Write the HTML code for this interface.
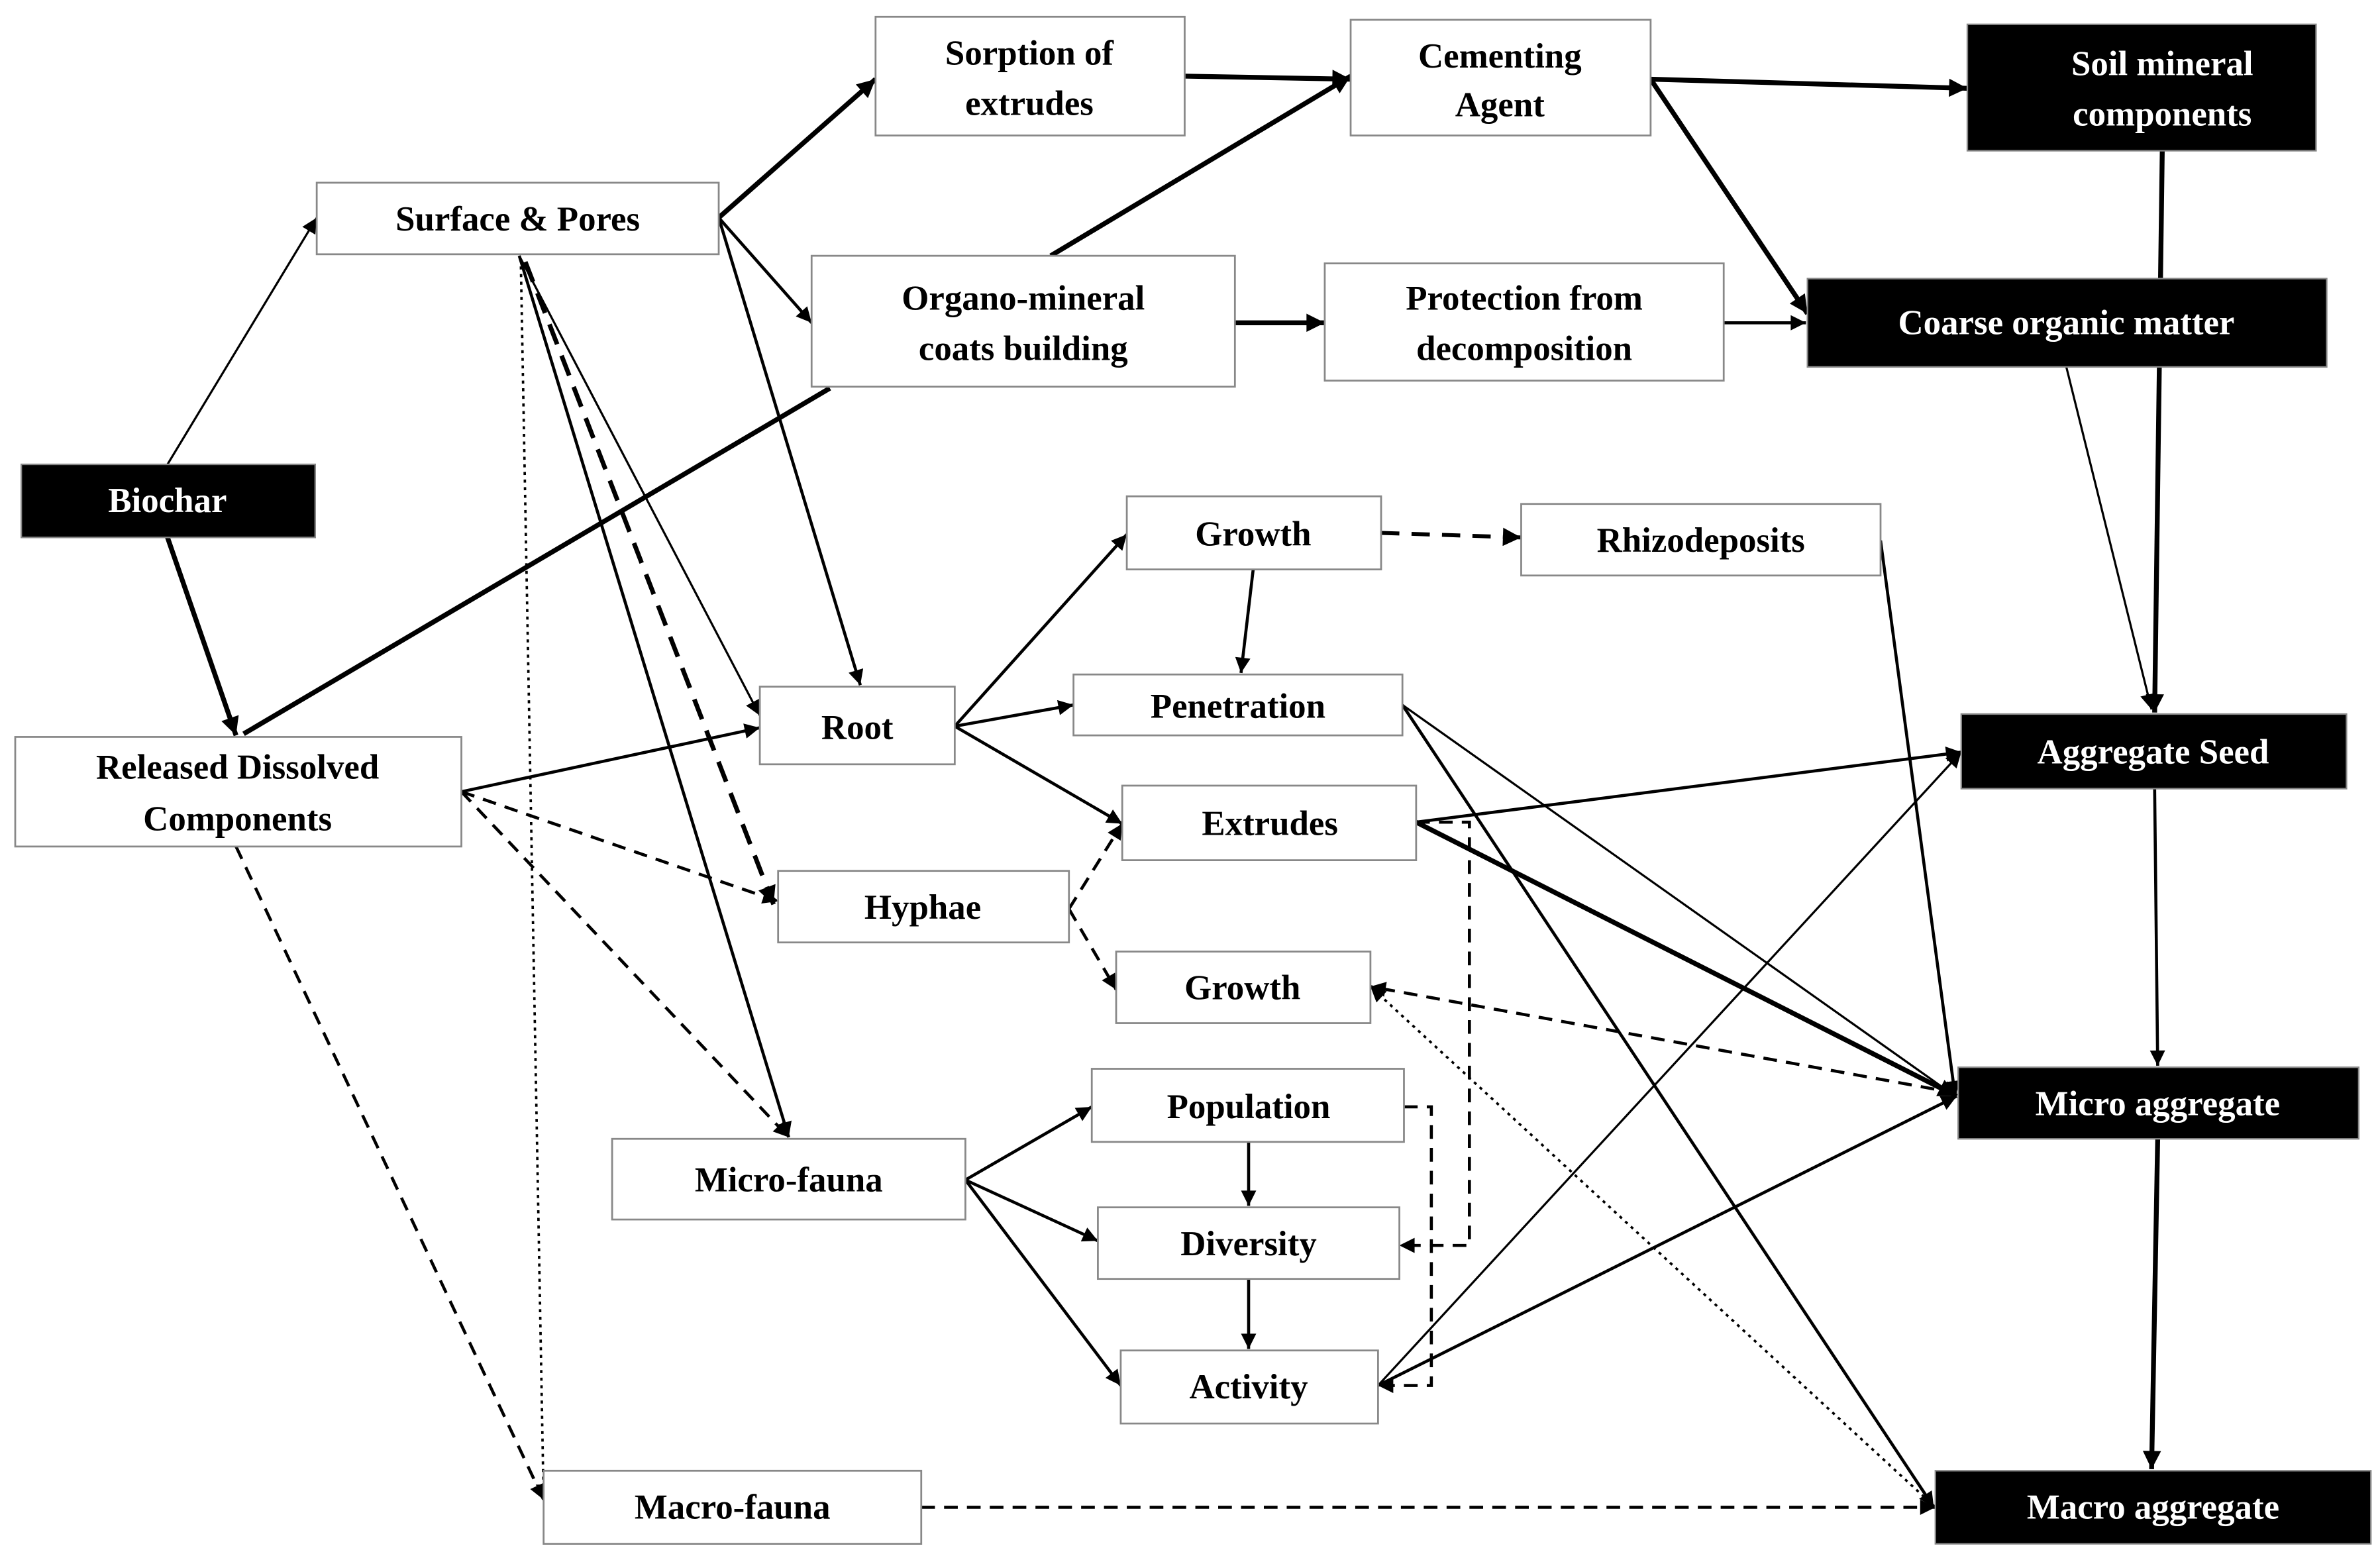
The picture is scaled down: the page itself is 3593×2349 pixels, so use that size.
<!DOCTYPE html>
<html><head><meta charset="utf-8"><style>
html,body{margin:0;padding:0;background:#fff}
svg{display:block}
text{font-family:"Liberation Serif",serif;font-weight:bold;font-size:23px;text-anchor:middle;dominant-baseline:central}
</style></head><body>
<svg width="3593" height="2349" viewBox="0 0 1563 1022" preserveAspectRatio="none" xmlns="http://www.w3.org/2000/svg">
<defs>
<marker id="a" viewBox="0 0 10 10" refX="10" refY="5" markerWidth="11" markerHeight="10" markerUnits="userSpaceOnUse" orient="auto"><path d="M0,0L10,5L0,10z" fill="#000"/></marker>
<marker id="b" viewBox="0 0 10 10" refX="10" refY="5" markerWidth="14" markerHeight="12" markerUnits="userSpaceOnUse" orient="auto"><path d="M0,0L10,5L0,10z" fill="#000"/></marker>
</defs>
<g stroke="#000" fill="none">
<!-- thin -->
<g stroke-width="1.4" marker-end="url(#a)">
<line x1="110" y1="305" x2="208" y2="143"/>
<line x1="341" y1="168" x2="499" y2="470"/>
<line x1="1357" y1="241" x2="1413" y2="466"/>
<line x1="921" y1="463" x2="1284" y2="720"/>
<line x1="905" y1="910" x2="1288" y2="494"/>
</g>
<!-- medium -->
<g stroke-width="2" marker-end="url(#a)">
<line x1="472" y1="143" x2="533" y2="212"/>
<line x1="472" y1="143" x2="565" y2="450"/>
<line x1="341" y1="168" x2="518" y2="747"/>
<line x1="1132" y1="212" x2="1186" y2="212"/>
<line x1="1415" y1="518" x2="1417" y2="700"/>
<line x1="303" y1="520" x2="499" y2="478"/>
<line x1="627" y1="477" x2="740" y2="351"/>
<line x1="627" y1="477" x2="705" y2="463"/>
<line x1="627" y1="477" x2="737" y2="541"/>
<line x1="823" y1="374" x2="815" y2="442"/>
<line x1="1235" y1="355" x2="1284" y2="720"/>
<line x1="921" y1="463" x2="1270" y2="990"/>
<line x1="930" y1="540" x2="1288" y2="494"/>
<line x1="634" y1="775" x2="717" y2="727"/>
<line x1="634" y1="775" x2="721" y2="815"/>
<line x1="634" y1="775" x2="736" y2="910"/>
<line x1="820" y1="750" x2="820" y2="792"/>
<line x1="820" y1="840" x2="820" y2="886"/>
<line x1="905" y1="910" x2="1285" y2="720"/>
</g>
<!-- thick -->
<g stroke-width="3.2" marker-end="url(#b)">
<line x1="110" y1="353" x2="155" y2="483"/>
<line x1="472" y1="143" x2="575" y2="52"/>
<line x1="690" y1="168" x2="887" y2="50"/>
<line x1="778" y1="50" x2="887" y2="52"/>
<line x1="1084" y1="52" x2="1292" y2="58"/>
<line x1="1084" y1="52" x2="1187" y2="206"/>
<line x1="811" y1="212" x2="870" y2="212"/>
<line x1="1420" y1="99" x2="1415" y2="468"/>
<line x1="1417" y1="748" x2="1413" y2="965"/>
<line x1="930" y1="540" x2="1285" y2="720"/>
</g>
<line x1="160" y1="482" x2="545" y2="255" stroke-width="3.2"/>
<!-- dashed -->
<g stroke-width="2" stroke-dasharray="9,6" marker-end="url(#a)">
<line x1="303" y1="520" x2="511" y2="592"/>
<line x1="303" y1="520" x2="518" y2="747"/>
<line x1="155" y1="556" x2="357" y2="985"/>
<line x1="702" y1="597" x2="737" y2="541"/>
<line x1="702" y1="597" x2="733" y2="650"/>
<line x1="1285" y1="718" x2="900" y2="648"/>
<line x1="605" y1="990" x2="1271" y2="990"/>
<polyline points="930,540 965,540 965,818 919,818"/>
<polyline points="922,727 940,727 940,910 905,910"/>
</g>
<line x1="907" y1="350" x2="999" y2="353" stroke-width="2.6" stroke-dasharray="12,8" marker-end="url(#b)"/>
<line x1="345" y1="172" x2="508" y2="594" stroke-width="3" stroke-dasharray="14,8" marker-end="url(#b)"/>
<!-- dotted -->
<line x1="342" y1="170" x2="357" y2="985" stroke-width="1.6" stroke-dasharray="2,3" marker-end="url(#a)"/>
<line x1="1271" y1="990" x2="900" y2="648" stroke-width="1.6" stroke-dasharray="2,3" marker-end="url(#a)"/>
</g>
<!-- boxes -->
<g stroke="#888" stroke-width="1.2" fill="#fff">
<rect x="575" y="11" width="203" height="78"/>
<rect x="887" y="13" width="197" height="76"/>
<rect x="208" y="120" width="264" height="47"/>
<rect x="533" y="168" width="278" height="86"/>
<rect x="870" y="173" width="262" height="77"/>
<rect x="740" y="326" width="167" height="48"/>
<rect x="999" y="331" width="236" height="47"/>
<rect x="499" y="451" width="128" height="51"/>
<rect x="705" y="443" width="216" height="40"/>
<rect x="10" y="484" width="293" height="72"/>
<rect x="737" y="516" width="193" height="49"/>
<rect x="511" y="572" width="191" height="47"/>
<rect x="733" y="625" width="167" height="47"/>
<rect x="717" y="702" width="205" height="48"/>
<rect x="402" y="748" width="232" height="53"/>
<rect x="721" y="793" width="198" height="47"/>
<rect x="736" y="887" width="169" height="48"/>
<rect x="357" y="966" width="248" height="48"/>
</g>
<g fill="#000" stroke="#888" stroke-width="1">
<rect x="1292" y="16" width="229" height="83"/>
<rect x="1187" y="183" width="341" height="58"/>
<rect x="14" y="305" width="193" height="48"/>
<rect x="1288" y="469" width="253" height="49"/>
<rect x="1286" y="701" width="263" height="47"/>
<rect x="1271" y="966" width="286" height="48"/>
</g>
<g fill="#000">
<text x="676" y="35">Sorption of</text><text x="676" y="68">extrudes</text>
<text x="985" y="37">Cementing</text><text x="985" y="69">Agent</text>
<text x="340" y="144">Surface &amp; Pores</text>
<text x="672" y="196">Organo-mineral</text><text x="672" y="229">coats building</text>
<text x="1001" y="196">Protection from</text><text x="1001" y="229">decomposition</text>
<text x="823" y="351">Growth</text>
<text x="1117" y="355">Rhizodeposits</text>
<text x="563" y="478">Root</text>
<text x="813" y="464">Penetration</text>
<text x="156" y="504">Released Dissolved</text><text x="156" y="538">Components</text>
<text x="834" y="541">Extrudes</text>
<text x="606" y="596">Hyphae</text>
<text x="816" y="649">Growth</text>
<text x="820" y="727">Population</text>
<text x="518" y="775">Micro-fauna</text>
<text x="820" y="817">Diversity</text>
<text x="820" y="911">Activity</text>
<text x="481" y="990">Macro-fauna</text>
</g>
<g fill="#fff">
<text x="1420" y="42">Soil mineral</text><text x="1420" y="75">components</text>
<text x="1357" y="212">Coarse organic matter</text>
<text x="110" y="329">Biochar</text>
<text x="1414" y="494">Aggregate Seed</text>
<text x="1417" y="725">Micro aggregate</text>
<text x="1414" y="990">Macro aggregate</text>
</g>
</svg>
</body></html>
